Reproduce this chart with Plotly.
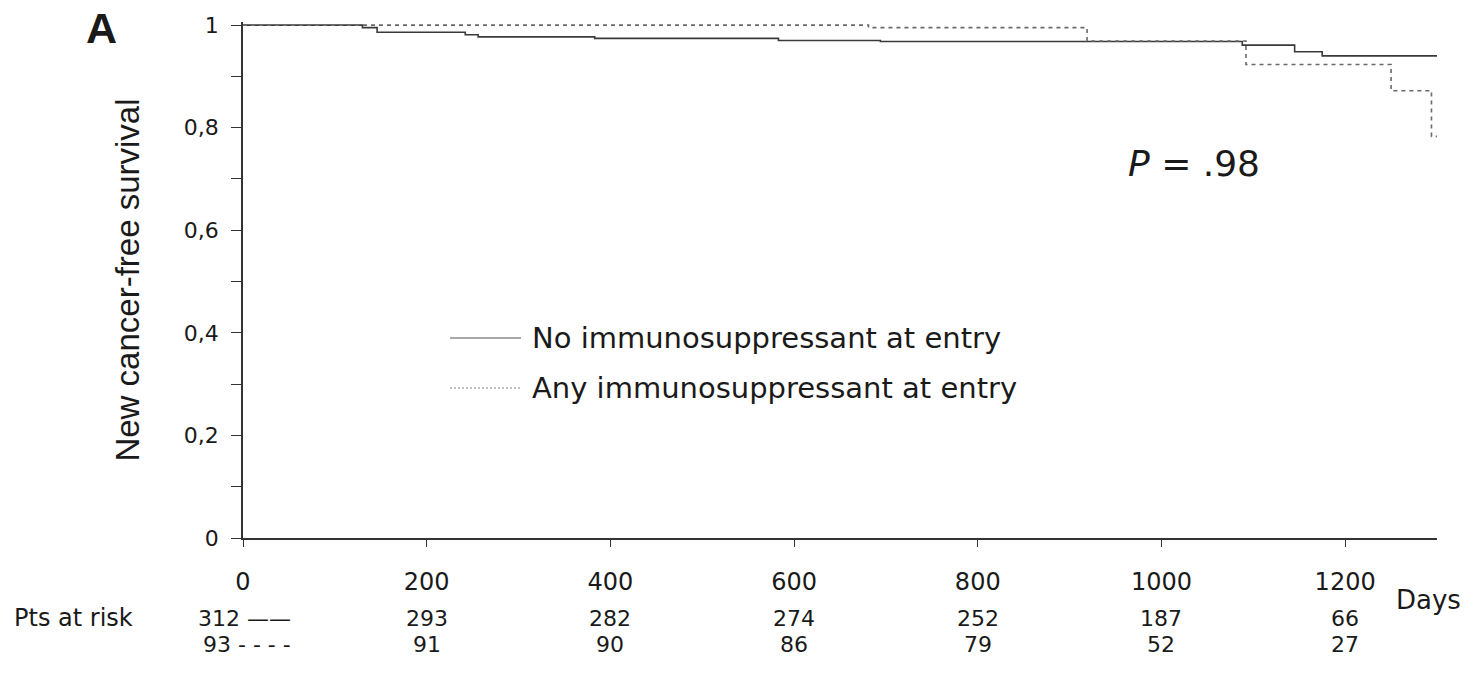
import plotly.graph_objects as go

# Kaplan-Meier step curves: (day, survival) at each step
no_is_days = [0, 130, 146, 242, 256, 383, 583, 694, 1088, 1145, 1175, 1300]
no_is_surv = [1.0, 0.995, 0.986, 0.981, 0.977, 0.974, 0.970, 0.968, 0.961, 0.948, 0.940, 0.940]

any_is_days = [0, 681, 919, 1092, 1250, 1294, 1300]
any_is_surv = [1.0, 0.995, 0.969, 0.923, 0.872, 0.783, 0.783]

# Patients at risk table
risk_days = [200, 400, 600, 800, 1000, 1200]
risk_no_is = [293, 282, 274, 252, 187, 66]
risk_any_is = [91, 90, 86, 79, 52, 27]
risk_start = [312, 93]

y_ticks = [0, 0.2, 0.4, 0.6, 0.8, 1]
y_tick_text = ["0", "0,2", "0,4", "0,6", "0,8", "1"]
x_ticks = [0, 200, 400, 600, 800, 1000, 1200]

W, H = 1473, 685
L, R, T, B = 243, 36, 22, 147
pw, ph = W - L - R, H - T - B

def px(x):
    return (x - L) / pw

def py(y):
    return (H - B - y) / ph

FONT = "DejaVu Sans"
INK = "#1a1a1a"
ROW1, ROW2 = 618, 644

fig = go.Figure()
fig.add_trace(go.Scatter(x=no_is_days, y=no_is_surv, mode="lines", line_shape="hv",
                         line=dict(color="#3a3a3a", width=1.6), showlegend=False))
fig.add_trace(go.Scatter(x=any_is_days, y=any_is_surv, mode="lines", line_shape="hv",
                         line=dict(color="#6a6a6a", width=1.6, dash="4px,4px"), showlegend=False))

ann = []
# Legend
legend_items = [("No immunosuppressant at entry", "solid", "#555", 338),
                ("Any immunosuppressant at entry", "2px,2px", "#888", 388)]
shapes = []
for label, dash, col, yy in legend_items:
    shapes.append(dict(type="line", xref="paper", yref="paper", x0=px(450), x1=px(521),
                       y0=py(yy), y1=py(yy), line=dict(color=col, width=1.2, dash=dash)))
    ann.append(dict(text=label, xref="paper", yref="paper", x=px(530), y=py(yy),
                    xanchor="left", yanchor="middle", showarrow=False,
                    font=dict(family=FONT, size=29, color=INK)))

# P value
ann.append(dict(text="<i>P</i> = .98", xref="paper", yref="paper", x=px(1126), y=py(163),
                xanchor="left", yanchor="middle", showarrow=False,
                font=dict(family=FONT, size=36, color=INK)))
# Panel letter
ann.append(dict(text="<b>A</b>", xref="paper", yref="paper", x=px(101), y=py(28),
                xanchor="center", yanchor="middle", showarrow=False,
                font=dict(family="Liberation Sans", size=43, color=INK)))
# Days label
ann.append(dict(text="Days", xref="paper", yref="paper", x=px(1394), y=py(600),
                xanchor="left", yanchor="middle", showarrow=False,
                font=dict(family=FONT, size=26, color=INK)))
# At-risk table
ann.append(dict(text="Pts at risk", xref="paper", yref="paper", x=px(12), y=py(ROW1),
                xanchor="left", yanchor="middle", showarrow=False,
                font=dict(family=FONT, size=24, color=INK)))
ann.append(dict(text=f"{risk_start[0]} ——", xref="paper", yref="paper", x=px(293), y=py(ROW1),
                xanchor="right", yanchor="middle", showarrow=False,
                font=dict(family=FONT, size=22, color=INK)))
ann.append(dict(text=f"{risk_start[1]} - - - -", xref="paper", yref="paper", x=px(293), y=py(ROW2),
                xanchor="right", yanchor="middle", showarrow=False,
                font=dict(family=FONT, size=22, color=INK)))
for d, a, b in zip(risk_days, risk_no_is, risk_any_is):
    ann.append(dict(text=str(a), xref="x", yref="paper", x=d, y=py(ROW1),
                    xanchor="center", yanchor="middle", showarrow=False,
                    font=dict(family=FONT, size=22, color=INK)))
    ann.append(dict(text=str(b), xref="x", yref="paper", x=d, y=py(ROW2),
                    xanchor="center", yanchor="middle", showarrow=False,
                    font=dict(family=FONT, size=22, color=INK)))

fig.update_layout(
    width=W, height=H,
    margin=dict(l=L, r=R, t=T, b=B, pad=0),
    paper_bgcolor="white", plot_bgcolor="white",
    annotations=ann, shapes=shapes,
    xaxis=dict(range=[0, 1300], tickvals=x_ticks, showgrid=False, zeroline=False,
               showline=True, linecolor="#333", linewidth=1.6,
               ticks="outside", ticklen=7, tickwidth=1.4, tickcolor="#333",
               ticklabelstandoff=14,
               tickfont=dict(family=FONT, size=24, color=INK)),
    yaxis=dict(range=[0, 1.006], tickvals=y_ticks, ticktext=y_tick_text, showgrid=False,
               zeroline=False, showline=True, linecolor="#333", linewidth=1.6,
               ticks="outside", ticklen=10, tickwidth=1.4, tickcolor="#333",
               ticklabelstandoff=8,
               minor=dict(tickvals=[0.1, 0.3, 0.5, 0.7, 0.9], ticks="outside", ticklen=10,
                          tickwidth=1.4, tickcolor="#333"),
               tickfont=dict(family=FONT, size=22, color=INK),
               title=dict(text="New cancer-free survival", standoff=34,
                          font=dict(family="Liberation Sans", size=33, color=INK))),
)

fig.write_html("out.html")
